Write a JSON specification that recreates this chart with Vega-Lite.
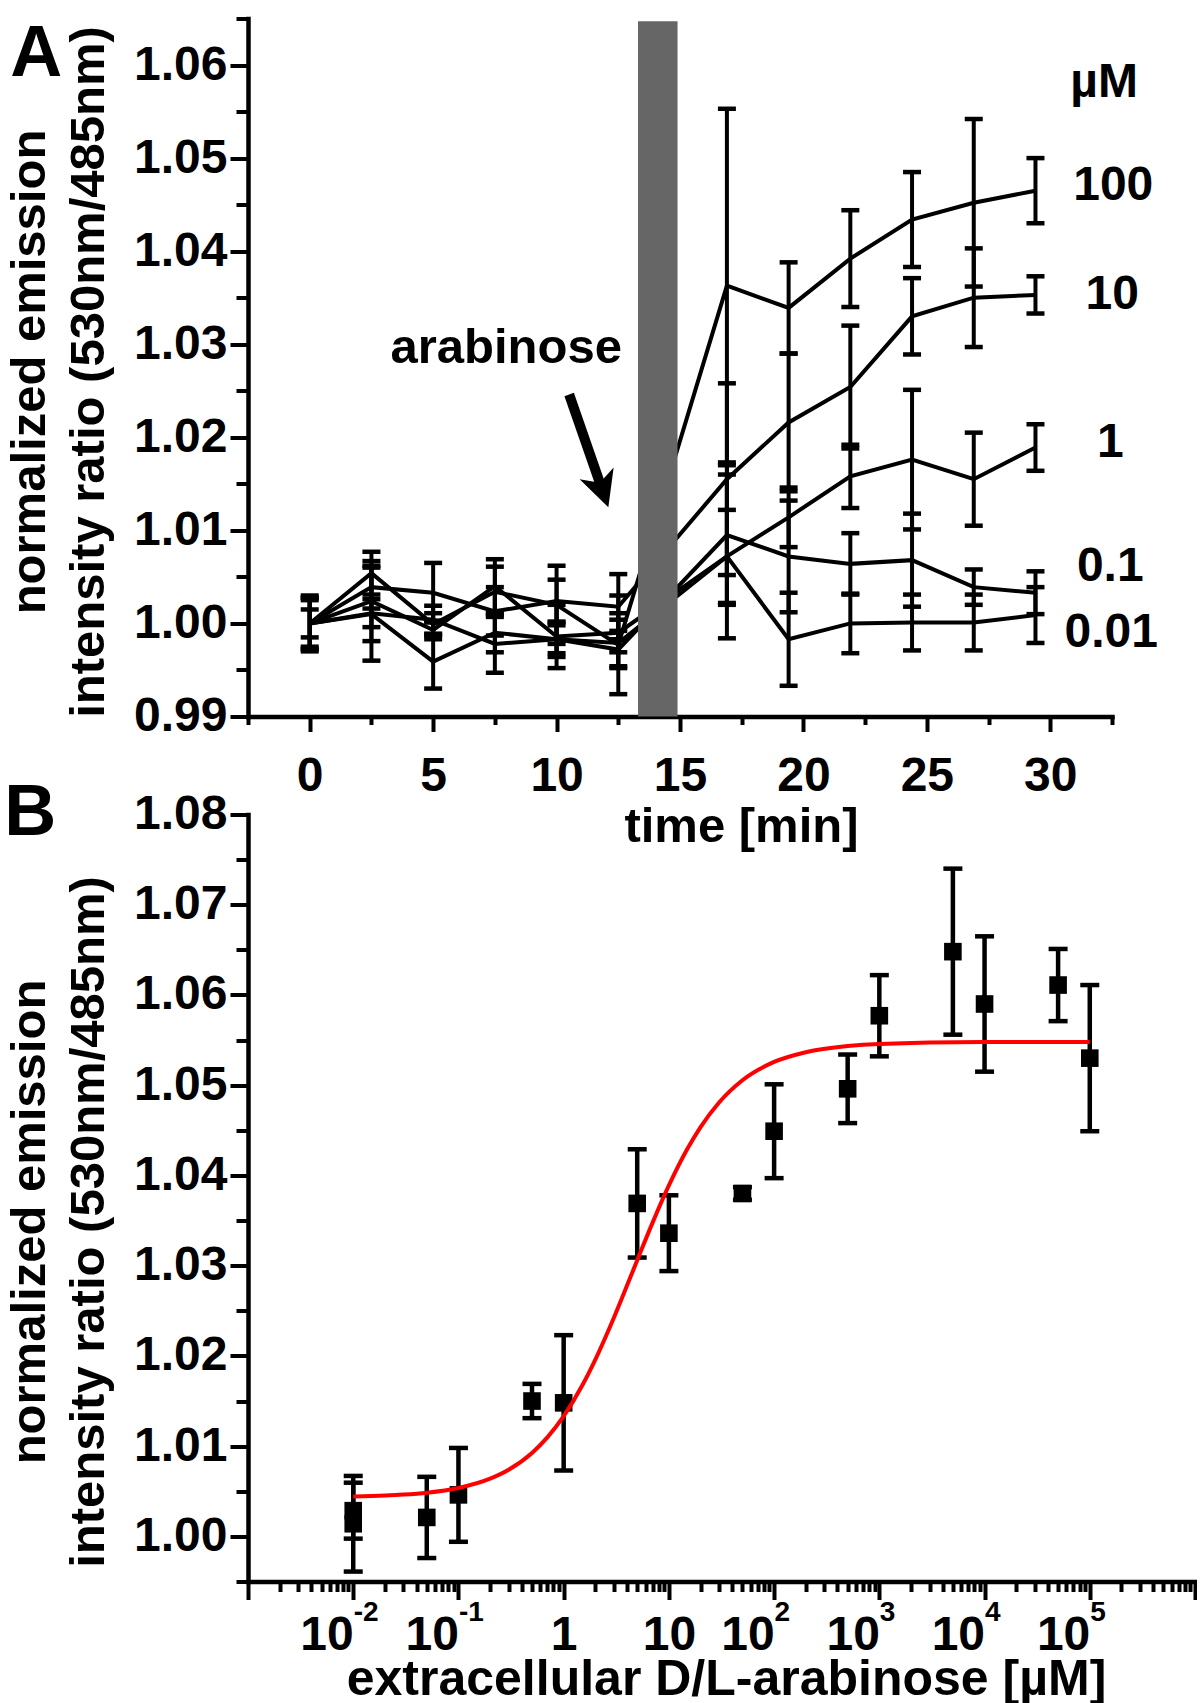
{
  "$schema": "https://vega.github.io/schema/vega-lite/v6.json",
  "background": "white",
  "padding": {"left": 4, "top": 16.5, "right": 0, "bottom": 0},
  "bounds": "flush",
  "spacing": 98,
  "config": {
    "view": {"stroke": null},
    "font": "Liberation Sans",
    "axis": {
      "grid": false,
      "domainColor": "black",
      "domainWidth": 4.5,
      "domainCap": "square",
      "tickColor": "black",
      "tickWidth": 4,
      "labelFont": "Liberation Sans",
      "labelFontWeight": "bold",
      "labelColor": "black",
      "labelOverlap": false,
      "labelFlush": false,
      "labelBound": false,
      "titleFont": "Liberation Sans",
      "titleFontWeight": "bold",
      "titleFontSize": 49,
      "titleColor": "black"
    }
  },
  "datasets": {
    "tc": [
      {"conc": "100", "t": 0, "v": 1.0, "lo": 0.9972, "hi": 1.0028},
      {"conc": "100", "t": 2.5, "v": 1.0054, "lo": 1.0031, "hi": 1.0077},
      {"conc": "100", "t": 5, "v": 0.9999, "lo": 0.9987, "hi": 1.0011},
      {"conc": "100", "t": 7.5, "v": 1.0034, "lo": 1.0007, "hi": 1.0061},
      {"conc": "100", "t": 10, "v": 1.002, "lo": 0.9978, "hi": 1.0062},
      {"conc": "100", "t": 12.5, "v": 0.9977, "lo": 0.9924, "hi": 1.003},
      {"conc": "100", "t": 16.9, "v": 1.0363, "lo": 1.0173, "hi": 1.0553},
      {"conc": "100", "t": 19.4, "v": 1.0339, "lo": 1.029, "hi": 1.0388},
      {"conc": "100", "t": 21.9, "v": 1.0392, "lo": 1.034, "hi": 1.0444},
      {"conc": "100", "t": 24.4, "v": 1.0434, "lo": 1.0383, "hi": 1.0485},
      {"conc": "100", "t": 26.9, "v": 1.0452, "lo": 1.0362, "hi": 1.0542},
      {"conc": "100", "t": 29.4, "v": 1.0465, "lo": 1.043, "hi": 1.05},
      {"conc": "10", "t": 0, "v": 1.0, "lo": 0.997, "hi": 1.003},
      {"conc": "10", "t": 2.5, "v": 1.0039, "lo": 1.0016, "hi": 1.0062},
      {"conc": "10", "t": 5, "v": 1.0033, "lo": 1.0001, "hi": 1.0065},
      {"conc": "10", "t": 7.5, "v": 1.0013, "lo": 0.9987, "hi": 1.0039},
      {"conc": "10", "t": 10, "v": 1.0024, "lo": 1.0001, "hi": 1.0047},
      {"conc": "10", "t": 12.5, "v": 1.0018, "lo": 0.9983, "hi": 1.0053},
      {"conc": "10", "t": 16.9, "v": 1.0155, "lo": 1.0052, "hi": 1.0258},
      {"conc": "10", "t": 19.4, "v": 1.0216, "lo": 1.0142, "hi": 1.029},
      {"conc": "10", "t": 21.9, "v": 1.0254, "lo": 1.0188, "hi": 1.032},
      {"conc": "10", "t": 24.4, "v": 1.033, "lo": 1.0289, "hi": 1.0371},
      {"conc": "10", "t": 26.9, "v": 1.035, "lo": 1.0297, "hi": 1.0403},
      {"conc": "10", "t": 29.4, "v": 1.0353, "lo": 1.0333, "hi": 1.0373},
      {"conc": "1", "t": 0, "v": 1.0, "lo": 0.9985, "hi": 1.0015},
      {"conc": "1", "t": 2.5, "v": 1.0024, "lo": 0.9981, "hi": 1.0067},
      {"conc": "1", "t": 5, "v": 0.9993, "lo": 0.9983, "hi": 1.0003},
      {"conc": "1", "t": 7.5, "v": 1.004, "lo": 1.0011, "hi": 1.0069},
      {"conc": "1", "t": 10, "v": 0.9986, "lo": 0.9952, "hi": 1.002},
      {"conc": "1", "t": 12.5, "v": 0.999, "lo": 0.9969, "hi": 1.0011},
      {"conc": "1", "t": 16.9, "v": 1.0072, "lo": 1.0022, "hi": 1.0122},
      {"conc": "1", "t": 19.4, "v": 1.0114, "lo": 1.0082, "hi": 1.0146},
      {"conc": "1", "t": 21.9, "v": 1.0158, "lo": 1.0124, "hi": 1.0192},
      {"conc": "1", "t": 24.4, "v": 1.0176, "lo": 1.0101, "hi": 1.0251},
      {"conc": "1", "t": 26.9, "v": 1.0155, "lo": 1.0105, "hi": 1.0205},
      {"conc": "1", "t": 29.4, "v": 1.0189, "lo": 1.0164, "hi": 1.0214},
      {"conc": "0.1", "t": 0, "v": 1.0, "lo": 0.9975, "hi": 1.0025},
      {"conc": "0.1", "t": 2.5, "v": 1.0011, "lo": 0.9996, "hi": 1.0026},
      {"conc": "0.1", "t": 5, "v": 1.0004, "lo": 0.9989, "hi": 1.0019},
      {"conc": "0.1", "t": 7.5, "v": 0.9978, "lo": 0.9947, "hi": 1.0009},
      {"conc": "0.1", "t": 10, "v": 0.9983, "lo": 0.9964, "hi": 1.0002},
      {"conc": "0.1", "t": 12.5, "v": 0.9972, "lo": 0.9952, "hi": 0.9992},
      {"conc": "0.1", "t": 16.9, "v": 1.0095, "lo": 1.002, "hi": 1.017},
      {"conc": "0.1", "t": 19.4, "v": 1.0072, "lo": 1.0012, "hi": 1.0132},
      {"conc": "0.1", "t": 21.9, "v": 1.0064, "lo": 1.0031, "hi": 1.0097},
      {"conc": "0.1", "t": 24.4, "v": 1.0068, "lo": 1.0018, "hi": 1.0118},
      {"conc": "0.1", "t": 26.9, "v": 1.0039, "lo": 1.002, "hi": 1.0058},
      {"conc": "0.1", "t": 29.4, "v": 1.0033, "lo": 1.001, "hi": 1.0056},
      {"conc": "0.01", "t": 0, "v": 1.0, "lo": 0.9973, "hi": 1.0027},
      {"conc": "0.01", "t": 2.5, "v": 1.001, "lo": 0.996, "hi": 1.006},
      {"conc": "0.01", "t": 5, "v": 0.9959, "lo": 0.993, "hi": 0.9988},
      {"conc": "0.01", "t": 7.5, "v": 0.999, "lo": 0.9969, "hi": 1.0011},
      {"conc": "0.01", "t": 10, "v": 0.9983, "lo": 0.9968, "hi": 0.9998},
      {"conc": "0.01", "t": 12.5, "v": 0.9979, "lo": 0.9954, "hi": 1.0004},
      {"conc": "0.01", "t": 16.9, "v": 1.0072, "lo": 0.9984, "hi": 1.016},
      {"conc": "0.01", "t": 19.4, "v": 0.9983, "lo": 0.9933, "hi": 1.0033},
      {"conc": "0.01", "t": 21.9, "v": 1.0, "lo": 0.9968, "hi": 1.0032},
      {"conc": "0.01", "t": 24.4, "v": 1.0001, "lo": 0.9971, "hi": 1.0031},
      {"conc": "0.01", "t": 26.9, "v": 1.0001, "lo": 0.9971, "hi": 1.0031},
      {"conc": "0.01", "t": 29.4, "v": 1.0009, "lo": 0.9979, "hi": 1.0039}
    ],
    "dose": [
      {"c": 0.01, "v": 1.00285, "lo": 0.99975, "hi": 1.00595},
      {"c": 0.01, "v": 1.0014, "lo": 0.9961, "hi": 1.0067},
      {"c": 0.05, "v": 1.0021, "lo": 0.9976, "hi": 1.0066},
      {"c": 0.1, "v": 1.0046, "lo": 0.9994, "hi": 1.0098},
      {"c": 0.5, "v": 1.015, "lo": 1.0131, "hi": 1.0169},
      {"c": 1, "v": 1.0148, "lo": 1.0073, "hi": 1.0223},
      {"c": 5, "v": 1.0369, "lo": 1.0309, "hi": 1.0429},
      {"c": 10, "v": 1.0336, "lo": 1.0294, "hi": 1.0378},
      {"c": 50, "v": 1.038, "lo": 1.0373, "hi": 1.0387},
      {"c": 100, "v": 1.0449, "lo": 1.0397, "hi": 1.0501},
      {"c": 500, "v": 1.0496, "lo": 1.0458, "hi": 1.0534},
      {"c": 1000, "v": 1.0577, "lo": 1.0532, "hi": 1.0622},
      {"c": 5000, "v": 1.0648, "lo": 1.0556, "hi": 1.074},
      {"c": 10000, "v": 1.059, "lo": 1.0515, "hi": 1.0665},
      {"c": 50000, "v": 1.0611, "lo": 1.0571, "hi": 1.0651},
      {"c": 100000, "v": 1.053, "lo": 1.0449, "hi": 1.0611}
    ],
    "fit": [
      {"c": 0.01, "fit": 1.00441},
      {"c": 0.02, "fit": 1.00452},
      {"c": 0.03, "fit": 1.00463},
      {"c": 0.05, "fit": 1.00484},
      {"c": 0.1, "fit": 1.00537},
      {"c": 0.2, "fit": 1.0064},
      {"c": 0.3, "fit": 1.00739},
      {"c": 0.5, "fit": 1.00925},
      {"c": 0.7, "fit": 1.01097},
      {"c": 1, "fit": 1.01332},
      {"c": 1.5, "fit": 1.01672},
      {"c": 2, "fit": 1.0196},
      {"c": 3, "fit": 1.02423},
      {"c": 4, "fit": 1.02779},
      {"c": 5, "fit": 1.0306},
      {"c": 7, "fit": 1.03477},
      {"c": 10, "fit": 1.03889},
      {"c": 15, "fit": 1.04295},
      {"c": 20, "fit": 1.04536},
      {"c": 30, "fit": 1.04809},
      {"c": 50, "fit": 1.05055},
      {"c": 100, "fit": 1.05258},
      {"c": 200, "fit": 1.05366},
      {"c": 500, "fit": 1.05434},
      {"c": 1000, "fit": 1.05457},
      {"c": 10000, "fit": 1.05478},
      {"c": 100000, "fit": 1.0548}
    ],
    "bar": [{"start": 13.3, "end": 14.9, "lo": 0.99, "hi": 1.0647}],
    "arrow": [{"t1": 10.51, "v1": 1.0246, "t2": 11.86, "v2": 1.0143}],
    "head": [{"t": 11.86, "v": 1.0143}],
    "annot": [{"t": 7.96, "v": 1.028, "label": "arabinose"}],
    "conclab": [
      {"t": 32.18, "v": 1.0581, "label": "µM"},
      {"t": 32.55, "v": 1.047, "label": "100"},
      {"t": 32.51, "v": 1.0353, "label": "10"},
      {"t": 32.43, "v": 1.0194, "label": "1"},
      {"t": 32.43, "v": 1.0061, "label": "0.1"},
      {"t": 32.47, "v": 0.999, "label": "0.01"}
    ],
    "panelA": [{"t": -12.13, "v": 1.05885, "label": "A"}],
    "panelB": [{"c": 0.000004815, "v": 1.07768, "label": "B"}]
  },
  "vconcat": [
    {
      "width": 864,
      "height": 698,
      "layer": [
        {
          "data": {"name": "tc"},
          "mark": {"type": "line", "color": "black", "strokeWidth": 4},
          "encoding": {
            "x": {
              "field": "t", "type": "quantitative",
              "scale": {"domain": [-2.5, 32.5], "nice": false, "zero": false},
              "axis": {
                "values": [-2.5, 0, 2.5, 5, 7.5, 10, 12.5, 15, 17.5, 20, 22.5, 25, 27.5, 30, 32.5],
                "labelExpr": "datum.value % 5 == 0 ? format(datum.value, 'd') : ''",
                "labelFontSize": {"condition": {"test": "datum.value % 5 == 0", "value": 48}, "value": 0},
                "tickSize": {"condition": {"test": "datum.value % 5 == 0", "value": 15}, "value": 8},
                "labelPadding": 21,
                "labelBaseline": "top",
                "title": "time [min]",
                "titleX": 493, "titleY": 125, "titleBaseline": "alphabetic", "titleAlign": "center"
              }
            },
            "y": {
              "field": "v", "type": "quantitative",
              "scale": {"domain": [0.99, 1.065], "nice": false, "zero": false},
              "axis": {
                "values": [0.99, 0.995, 1.0, 1.005, 1.01, 1.015, 1.02, 1.025, 1.03, 1.035, 1.04, 1.045, 1.05, 1.055, 1.06, 1.065],
                "labelExpr": "round(datum.value*1000) % 10 == 0 ? format(datum.value, '.2f') : ''",
                "labelFontSize": {"condition": {"test": "round(datum.value*1000) % 10 == 0", "value": 48}, "value": 0},
                "tickSize": {"condition": {"test": "round(datum.value*1000) % 10 == 0", "value": 18}, "value": 12},
                "labelPadding": 3,
                "title": ["normalized emission", "intensity ratio (530nm/485nm)"],
                "titleX": -204, "titleY": 353, "titleAngle": 270, "titleBaseline": "alphabetic", "titleAlign": "center", "titleLineHeight": 59
              }
            },
            "detail": {"field": "conc"}
          }
        },
        {
          "data": {"name": "tc"},
          "mark": {"type": "rule", "color": "black", "strokeWidth": 4},
          "encoding": {
            "x": {"field": "t", "type": "quantitative"},
            "y": {"field": "lo", "type": "quantitative"},
            "y2": {"field": "hi"}
          }
        },
        {
          "data": {"name": "tc"},
          "mark": {"type": "tick", "orient": "horizontal", "color": "black", "size": 18, "thickness": 4.5, "opacity": 1},
          "encoding": {
            "x": {"field": "t", "type": "quantitative"},
            "y": {"field": "lo", "type": "quantitative"}
          }
        },
        {
          "data": {"name": "tc"},
          "mark": {"type": "tick", "orient": "horizontal", "color": "black", "size": 18, "thickness": 4.5, "opacity": 1},
          "encoding": {
            "x": {"field": "t", "type": "quantitative"},
            "y": {"field": "hi", "type": "quantitative"}
          }
        },
        {
          "data": {"name": "bar"},
          "mark": {"type": "rect", "color": "#666666", "opacity": 1},
          "encoding": {
            "x": {"field": "start", "type": "quantitative"},
            "x2": {"field": "end"},
            "y": {"field": "lo", "type": "quantitative"},
            "y2": {"field": "hi"}
          }
        },
        {
          "data": {"name": "arrow"},
          "mark": {"type": "rule", "color": "black", "strokeWidth": 10},
          "encoding": {
            "x": {"field": "t1", "type": "quantitative"},
            "y": {"field": "v1", "type": "quantitative"},
            "x2": {"field": "t2"},
            "y2": {"field": "v2"}
          }
        },
        {
          "data": {"name": "head"},
          "mark": {"type": "point", "shape": "M0,1L-1,-1L0,-0.45L1,-1Z", "filled": true, "color": "black", "opacity": 1, "size": 1296, "angle": 341, "strokeWidth": 0},
          "encoding": {
            "x": {"field": "t", "type": "quantitative"},
            "y": {"field": "v", "type": "quantitative"}
          }
        },
        {
          "data": {"name": "annot"},
          "mark": {"type": "text", "font": "Liberation Sans", "fontWeight": "bold", "fontSize": 49, "align": "center", "baseline": "alphabetic", "color": "black"},
          "encoding": {
            "x": {"field": "t", "type": "quantitative"},
            "y": {"field": "v", "type": "quantitative"},
            "text": {"field": "label"}
          }
        },
        {
          "data": {"name": "conclab"},
          "mark": {"type": "text", "font": "Liberation Sans", "fontWeight": "bold", "fontSize": 48, "align": "center", "baseline": "middle", "color": "black"},
          "encoding": {
            "x": {"field": "t", "type": "quantitative"},
            "y": {"field": "v", "type": "quantitative"},
            "text": {"field": "label"}
          }
        },
        {
          "data": {"name": "panelA"},
          "mark": {"type": "text", "font": "Liberation Sans", "fontWeight": "bold", "fontSize": 72, "align": "left", "baseline": "alphabetic", "color": "black"},
          "encoding": {
            "x": {"field": "t", "type": "quantitative"},
            "y": {"field": "v", "type": "quantitative"},
            "text": {"field": "label"}
          }
        }
      ]
    },
    {
      "width": 947,
      "height": 767,
      "resolve": {"axis": {"x": "independent"}},
      "layer": [
        {
          "data": {"name": "dose"},
          "mark": {"type": "rule", "color": "black", "strokeWidth": 4.5},
          "encoding": {
            "x": {
              "field": "c", "type": "quantitative",
              "scale": {"type": "log", "domain": [0.001, 1000000], "nice": false},
              "axis": {
                "orient": "bottom",
                "values": [0.001,0.002,0.003,0.004,0.005,0.006,0.007,0.008,0.009,0.01,0.02,0.03,0.04,0.05,0.06,0.07,0.08,0.09,0.1,0.2,0.3,0.4,0.5,0.6,0.7,0.8,0.9,1,2,3,4,5,6,7,8,9,10,20,30,40,50,60,70,80,90,100,200,300,400,500,600,700,800,900,1000,2000,3000,4000,5000,6000,7000,8000,9000,10000,20000,30000,40000,50000,60000,70000,80000,90000,100000,200000,300000,400000,500000,600000,700000,800000,900000,1000000],
                "labelExpr": "datum.value == 1 ? '1' : (indexof([0.01,0.1,10,100,1000,10000,100000], datum.value) >= 0 ? '10' : '')",
                "labelFontSize": {"condition": {"test": "indexof([0.01,0.1,1,10,100,1000,10000,100000], datum.value) >= 0", "value": 48}, "value": 0},
                "labelAlign": {"condition": {"test": "indexof([0.01,0.1,100,1000,10000,100000], datum.value) >= 0", "value": "right"}, "value": "center"},
                "tickSize": {"condition": {"test": "indexof([0.001,0.01,0.1,1,10,100,1000,10000,100000,1000000], datum.value) >= 0", "value": 18}, "value": 10},
                "labelPadding": 12,
                "labelBaseline": "top",
                "title": "extracellular D/L-arabinose [µM]",
                "titleFontSize": 50,
                "titleX": 478, "titleY": 113, "titleBaseline": "alphabetic", "titleAlign": "center"
              }
            },
            "y": {
              "field": "lo", "type": "quantitative",
              "scale": {"domain": [0.995, 1.08], "nice": false, "zero": false},
              "axis": {
                "values": [0.995, 1.0, 1.005, 1.01, 1.015, 1.02, 1.025, 1.03, 1.035, 1.04, 1.045, 1.05, 1.055, 1.06, 1.065, 1.07, 1.075, 1.08],
                "labelExpr": "round(datum.value*1000) % 10 == 0 ? format(datum.value, '.2f') : ''",
                "labelFontSize": {"condition": {"test": "round(datum.value*1000) % 10 == 0", "value": 48}, "value": 0},
                "tickSize": {"condition": {"test": "round(datum.value*1000) % 10 == 0", "value": 18}, "value": 12},
                "labelPadding": 3,
                "title": ["normalized emission", "intensity ratio (530nm/485nm)"],
                "titleX": -204, "titleY": 407, "titleAngle": 270, "titleBaseline": "alphabetic", "titleAlign": "center", "titleLineHeight": 59
              }
            },
            "y2": {"field": "hi"}
          }
        },
        {
          "data": {"name": "dose"},
          "mark": {"type": "tick", "orient": "horizontal", "color": "black", "size": 19, "thickness": 4.5, "opacity": 1},
          "encoding": {
            "x": {"field": "c", "type": "quantitative", "axis": null},
            "y": {"field": "lo", "type": "quantitative"}
          }
        },
        {
          "data": {"name": "dose"},
          "mark": {"type": "tick", "orient": "horizontal", "color": "black", "size": 19, "thickness": 4.5, "opacity": 1},
          "encoding": {
            "x": {"field": "c", "type": "quantitative", "axis": null},
            "y": {"field": "hi", "type": "quantitative"}
          }
        },
        {
          "data": {"name": "dose"},
          "mark": {"type": "point", "shape": "square", "filled": true, "color": "black", "opacity": 1, "size": 310},
          "encoding": {
            "x": {"field": "c", "type": "quantitative", "axis": null},
            "y": {"field": "v", "type": "quantitative"}
          }
        },
        {
          "data": {"name": "panelB"},
          "mark": {"type": "text", "font": "Liberation Sans", "fontWeight": "bold", "fontSize": 72, "align": "left", "baseline": "alphabetic", "color": "black"},
          "encoding": {
            "x": {"field": "c", "type": "quantitative", "axis": null},
            "y": {"field": "v", "type": "quantitative"},
            "text": {"field": "label"}
          }
        },
        {
          "data": {"name": "fit"},
          "mark": {"type": "line", "color": "#ff0000", "strokeWidth": 4, "interpolate": "monotone"},
          "encoding": {
            "x": {
              "field": "c", "type": "quantitative",
              "axis": {
                "orient": "bottom",
                "values": [0.01, 0.1, 100, 1000, 10000, 100000],
                "labelExpr": "datum.value == 0.01 ? '-2' : datum.value == 0.1 ? '-1' : datum.value == 100 ? '2' : datum.value == 1000 ? '3' : datum.value == 10000 ? '4' : '5'",
                "labelFontSize": 28,
                "labelAlign": "left",
                "labelBaseline": "top",
                "labelPadding": 17,
                "ticks": false,
                "domain": false,
                "title": null
              }
            },
            "y": {"field": "fit", "type": "quantitative"}
          }
        }
      ]
    }
  ]
}
